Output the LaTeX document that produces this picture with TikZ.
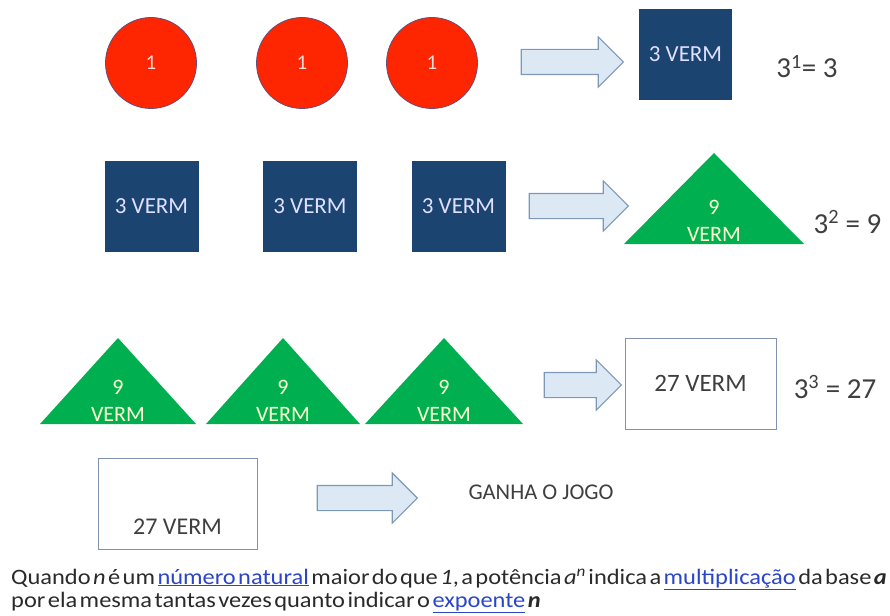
\documentclass[tikz,border=0pt]{standalone}
\usepackage{fontspec}
\setmainfont{Carlito}
\usetikzlibrary{shapes.arrows}
\definecolor{vermelho}{HTML}{FE2600}
\definecolor{moedaborda}{HTML}{6A4A78}
\definecolor{marinho}{HTML}{1C4470}
\definecolor{verde}{HTML}{00B050}
\definecolor{setafundo}{HTML}{DCE8F4}
\definecolor{setaborda}{HTML}{7E98B8}
\definecolor{caixaborda}{HTML}{8093AD}
\definecolor{cinza}{HTML}{3F3F3F}
\definecolor{texto}{HTML}{2A2A2A}
\definecolor{azullink}{HTML}{2B45C8}
\newcommand{\lnk}[1]{\textcolor{azullink}{\underline{#1}}}
\newcommand{\triverm}[5]{
  \coordinate (#1-a) at (#2,#5);
  \coordinate (#1-b) at (#3,#5);
  \coordinate (#1-c) at ({(#2+#3)/2},#4);
  \fill[verde] (#1-a) -- (#1-b) -- (#1-c) -- cycle;
  \node[nove] (#1-n) at ({(#2+#3)/2},#5-37) {9};
  \node[nove] (#1-v) at ({(#2+#3)/2},#5-10) {VERM};
}

\begin{document}
\begin{tikzpicture}[x=1pt,y=-1pt]
\tikzstyle{moeda}=[circle,fill=vermelho,draw=moedaborda,line width=0.8pt,minimum size=91pt,inner sep=0pt,text=red!15,font=\fontsize{21}{22}\selectfont]
\tikzstyle{tresverm}=[rectangle,fill=marinho,minimum width=94pt,minimum height=91pt,inner sep=0pt,text=white!88!blue,font=\fontsize{23}{24}\selectfont]
\tikzstyle{nove}=[inner sep=0pt,text=green!10!yellow!20!white,font=\fontsize{22}{24}\selectfont]
\tikzstyle{caixa}=[rectangle,draw=caixaborda,line width=1pt,fill=white,inner sep=0pt,text=cinza,font=\fontsize{25}{26}\selectfont]
\tikzstyle{seta}=[single arrow,fill=setafundo,draw=setaborda,line width=1.1pt,inner xsep=0pt,inner ysep=12pt,single arrow head extend=12.5pt]
\tikzstyle{conta}=[inner sep=0pt,text=cinza,font=\fontsize{29}{30}\selectfont]
\useasboundingbox (0,0) rectangle (890,615);

% 3 elevado a 1
\node[moeda] (um1) at (151,63) {1};
\node[moeda] (um2) at (302,63) {1};
\node[moeda] (um3) at (432,63) {1};
\node[seta,minimum height=102pt] (seta1) at (566,62) {};
\node[tresverm,minimum width=93pt] (tres) at (685.5,54.5) {3 VERM};
\node[conta] (pot1) at (807,67) {3\textsuperscript{1}= 3};

% 3 elevado a 2
\node[tresverm] (tres1) at (151.5,206.5) {3 VERM};
\node[tresverm] (tres2) at (310,206.5) {3 VERM};
\node[tresverm] (tres3) at (458.5,206.5) {3 VERM};
\node[seta,minimum height=99pt] (seta2) at (572.5,206) {};
\triverm{nove}{624}{804}{153}{244}
\node[conta] (pot2) at (847.5,222) {3\textsuperscript{2} = 9};

% 3 elevado a 3
\triverm{nove1}{40}{196}{338}{424}
\triverm{nove2}{206}{360}{338}{424}
\triverm{nove3}{365}{523}{338}{424}
\node[seta,minimum height=77pt] (seta3) at (576.5,385) {};
\node[caixa,minimum width=151pt,minimum height=91pt] (vinte7) at (700.5,383.5) {27 VERM};
\node[conta] (pot3) at (835,387) {3\textsuperscript{3} = 27};

% fim
\node[caixa,minimum width=159pt,minimum height=91pt] (vinte7b) at (177.5,503.5) {};
\node[inner sep=0pt,text=cinza,font=\fontsize{24}{26}\selectfont] (vinte7t) at (177.5,527) {27 VERM};
\node[seta,minimum height=100pt] (seta4) at (361,498) {};
\node[inner sep=0pt,text=cinza,font=\fontsize{22.5}{24}\selectfont] (ganha) at (541,492) {GANHA O JOGO};

% definicao
\node[anchor=base west,inner sep=0pt,text=texto,font=\fontsize{22}{24}\selectfont] (def1) at (11,584)
  {\scalebox{1.11}[1]{\spaceskip=0.1em Quando \textit{n} é um \lnk{número natural} maior do que \textit{1}, a potência \textit{a\textsuperscript{n}} indica a \lnk{multiplicação} da base \textit{\textbf{a}}}};
\node[anchor=base west,inner sep=0pt,text=texto,font=\fontsize{22}{24}\selectfont] (def2) at (11,607)
  {\scalebox{1.11}[1]{\spaceskip=0.1em por ela mesma tantas vezes quanto indicar o \lnk{expoente} \textit{\textbf{n}}}};
\end{tikzpicture}
\end{document}
